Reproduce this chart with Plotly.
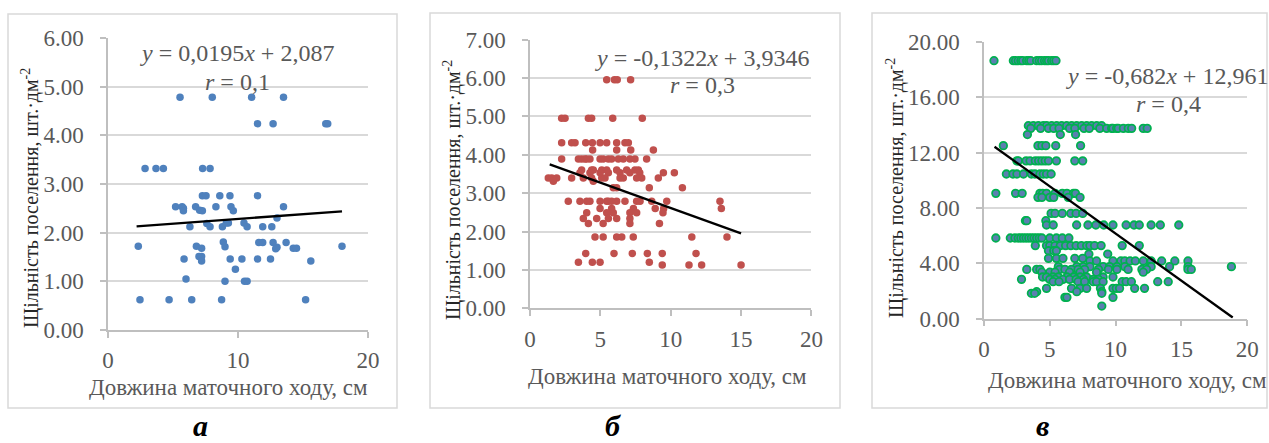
import plotly.graph_objects as go

W, H = 1269, 443

# ---------------- data ----------------
# Panel а
xa = [5.54, 8.02, 11.05, 13.5,
      11.5, 12.7, 16.75, 16.9,
      2.85, 3.69, 4.26, 7.28, 7.85,
      7.26, 7.54, 8.6, 9.38, 11.5,
      5.2, 5.7, 5.8, 6.74, 8.3, 9.46, 13.5,
      5.8, 7.05, 7.26, 9.64,
      13.0,
      7.6, 7.85, 6.3, 8.8, 9.26, 9.1, 10.46, 10.7, 11.9, 12.6,
      2.33, 6.8, 7.2, 8.87, 9.0, 11.6, 11.9, 12.7, 13.0, 12.9, 13.7, 14.25, 14.5, 18.0,
      7.0, 7.2,
      5.85, 9.4, 10.3, 11.5, 12.5,
      7.2, 15.6,
      9.8, 6.0, 9.0, 10.5, 10.7,
      2.46, 4.7, 6.44, 8.74, 15.2]
ya = [4.78, 4.78, 4.78, 4.78,
      4.24, 4.24, 4.24, 4.24,
      3.32, 3.32, 3.32, 3.32, 3.32,
      2.76, 2.76, 2.76, 2.76, 2.76,
      2.53, 2.53, 2.50, 2.53, 2.53, 2.53, 2.53,
      2.45, 2.46, 2.45, 2.45,
      2.30,
      2.19, 2.12, 2.12, 2.12, 2.20, 2.20, 2.20, 2.12, 2.12, 2.12,
      1.72, 1.72, 1.68, 1.81, 1.71, 1.80, 1.80, 1.80, 1.70, 1.67, 1.80, 1.68, 1.68, 1.72,
      1.51, 1.51,
      1.46, 1.46, 1.46, 1.46, 1.46,
      1.42, 1.42,
      1.25, 1.05, 1.00, 1.00, 1.00,
      0.62, 0.62, 0.62, 0.62, 0.62]

# Panel б  (rows: density value -> list of lengths)
b_rows = [
    (5.95, [5.45, 6.0, 6.2, 7.15]),
    (4.95, [2.25, 2.49, 4.15, 4.38, 5.88, 7.98]),
    (4.31, [2.25, 2.96, 3.2, 3.96, 4.43, 4.98, 5.45, 6.16, 6.75, 6.99]),
    (4.12, [4.45, 6.16, 7.16, 8.77]),
    (3.89, [2.25, 3.44, 3.67, 3.9, 4.03, 4.26, 4.98, 5.2, 5.57, 5.8, 6.28, 6.63, 7.1, 7.46, 8.29]),
    (3.60, [3.67, 4.38, 4.5, 5.1, 5.45, 6.16, 6.87, 7.46, 7.7]),
    (3.53, [3.55, 4.26, 4.98, 5.57, 6.4, 7.1, 7.8, 9.48, 10.26]),
    (3.39, [1.3, 1.54, 1.9, 2.96, 3.79, 4.38, 5.1, 5.33, 6.4, 6.63, 7.58, 7.94, 9.12]),
    (3.31, [1.66, 4.5]),
    (3.14, [5.92, 6.16, 8.48, 10.83]),
    (2.79, [2.72, 3.55, 4.03, 4.26, 4.98, 5.45, 5.57, 5.8, 6.16, 6.75, 7.58, 7.82, 8.65, 9.72, 13.5]),
    (2.60, [4.98, 5.8, 7.35, 8.9, 9.5, 13.6]),
    (2.49, [4.03, 5.45, 5.92, 7.1, 7.58, 9.45]),
    (2.34, [3.79, 4.74, 5.57, 6.16, 7.1]),
    (2.21, [4.15, 5.2, 7.1, 9.2]),
    (1.86, [4.62, 5.2, 6.16, 6.52, 7.34, 11.5, 14.0]),
    (1.43, [3.96, 5.97, 7.27, 8.34, 9.4, 11.8]),
    (1.20, [3.44, 4.43, 4.98, 8.48]),
    (1.13, [9.4, 11.3, 12.2, 15.0]),
]
xb = [x for yv, xs in b_rows for x in xs]
yb = [yv for yv, xs in b_rows for x in xs]

# Panel в
c_rows = [
    (18.64, [0.76, 2.23, 2.4, 2.6, 2.8, 2.94, 3.24, 3.4, 3.55, 4.0, 4.2, 4.38, 4.6, 4.76, 4.9, 5.14, 5.3, 5.47]),
    (13.94, [3.37, 3.75, 4.13, 4.51, 4.76, 5.14, 5.52, 5.9, 6.28, 6.66, 7.04, 7.42, 7.8, 8.18, 8.56, 8.94]),
    (13.75, [3.55, 4.3, 4.9, 5.3, 5.7, 6.5, 6.9, 7.6, 8.0, 8.8, 9.32, 9.7, 9.8, 10.08, 10.2, 10.59, 10.96, 11.22, 12.1, 12.4]),
    (13.30, [3.3, 5.8, 6.96]),
    (12.50, [1.47, 4.1, 4.4, 4.7, 5.45, 7.34]),
    (11.40, [2.5, 2.6, 3.2, 3.5, 3.9, 4.15, 4.4, 4.65, 4.9, 5.5, 6.9, 7.5]),
    (10.45, [1.7, 2.2, 2.5, 3.0, 3.6, 3.87, 4.25, 4.5, 4.75, 5.1]),
    (9.05, [0.9, 2.4, 2.9, 4.25, 4.45, 4.75, 5.4, 5.95, 6.3, 6.8, 6.95]),
    (8.76, [4.1, 4.4, 5.0, 5.3, 6.4, 7.3]),
    (7.60, [5.1, 5.4, 5.95, 6.6, 7.0, 7.5]),
    (7.07, [3.15, 3.25, 4.7]),
    (6.76, [4.75, 5.26, 7.04, 7.9, 8.5, 9.1, 9.8, 10.8, 11.4, 11.8, 12.7, 13.4, 14.8]),
    (5.82, [0.9, 2.0, 2.35, 2.6, 2.8, 3.0, 3.2, 3.4, 3.6, 3.8, 4.0, 4.2, 4.4, 5.0, 5.5, 5.95, 6.45]),
    (5.27, [3.9, 4.75, 5.0, 5.4, 5.8, 6.2, 6.6, 7.0, 7.4, 7.8, 8.05, 8.4, 8.9, 10.5, 11.8]),
    (4.90, [4.9, 5.3, 5.5]),
    (4.66, [7.97, 9.4]),
    (4.35, [4.9, 5.5, 6.0, 6.9, 7.5]),
    (4.16, [8.05, 8.55, 9.8, 10.4, 10.7, 11.1, 11.5, 12.1, 12.7, 13.5, 14.5, 15.5]),
    (3.75, [5.65, 7.05, 7.55, 8.05, 9.05, 9.55, 10.1, 10.7, 12.6, 12.7, 14.1, 15.5, 18.8]),
    (3.55, [3.25, 4.0, 4.25, 5.75, 6.15, 6.65, 7.15, 7.65, 8.7, 9.45, 10.1, 10.95, 12.0, 12.35, 15.5, 15.75]),
    (3.35, [4.4, 5.0, 5.4, 6.5, 7.3, 8.55, 12.1]),
    (3.00, [4.45, 4.75, 5.25, 5.65, 6.3, 6.8, 7.3, 7.8, 9.05, 9.8]),
    (2.83, [2.85, 5.0, 5.4, 6.0, 6.5, 7.0, 7.55, 8.3, 8.7]),
    (2.66, [5.25, 5.7, 7.15, 7.65, 8.3, 8.55, 9.05, 10.5, 10.8, 11.2, 13.2, 14.0]),
    (2.18, [4.75, 6.65, 7.3, 7.8, 8.85, 9.8, 10.05, 10.3, 11.45, 12.2]),
    (1.94, [4.0, 7.05, 8.95]),
    (1.82, [3.6, 3.85, 8.95]),
    (1.53, [6.15, 6.3, 9.8]),
    (0.90, [8.95]),
]
xc = [x for yv, xs in c_rows for x in xs]
yc = [yv for yv, xs in c_rows for x in xs]

# Trend lines (slope, intercept, x-start, x-end)
trend_a = (0.0195, 2.087, 2.2, 18.0)
trend_b = (-0.1322, 3.9346, 1.4, 15.0)
trend_c = (-0.682, 12.961, 0.8, 18.9)

eq_a = ["<i>y</i> = 0,0195<i>x</i> + 2,087", "<i>r</i> = 0,1"]
eq_b = ["<i>y</i> = -0,1322<i>x</i> + 3,9346", "<i>r</i> = 0,3"]
eq_c = ["<i>y</i> = -0,682<i>x</i> + 12,961", "<i>r</i> = 0,4"]

y_title = "Щільність поселення, шт.·дм<sup>-2</sup>"
x_title = "Довжина маточного ходу, см"
panel_labels = ["а", "б", "в"]

# ---------------- styling helpers ----------------
FONT = "Liberation Serif, Times New Roman, serif"
GRAY = "#595959"

def px(x):
    return x / W

def py(y):
    return 1 - y / H

fig = go.Figure()

def trend_xy(t):
    m, b, x0, x1 = t
    return [x0, x1], [m * x0 + b, m * x1 + b]

fig.add_trace(go.Scatter(x=xa, y=ya, mode="markers", xaxis="x", yaxis="y",
                         marker=dict(size=7.5, color="#4F81BD"), showlegend=False))
tx, ty = trend_xy(trend_a)
fig.add_trace(go.Scatter(x=tx, y=ty, mode="lines", xaxis="x", yaxis="y",
                         line=dict(color="black", width=2.3), showlegend=False))

fig.add_trace(go.Scatter(x=xb, y=yb, mode="markers", xaxis="x2", yaxis="y2",
                         marker=dict(size=7.5, color="#C0504D"), showlegend=False))
tx, ty = trend_xy(trend_b)
fig.add_trace(go.Scatter(x=tx, y=ty, mode="lines", xaxis="x2", yaxis="y2",
                         line=dict(color="black", width=2.3), showlegend=False))

fig.add_trace(go.Scatter(x=xc, y=yc, mode="markers", xaxis="x3", yaxis="y3",
                         marker=dict(size=7.5, color="#5B7FB0",
                                     line=dict(color="#00B050", width=1.8)),
                         showlegend=False))
tx, ty = trend_xy(trend_c)
fig.add_trace(go.Scatter(x=tx, y=ty, mode="lines", xaxis="x3", yaxis="y3",
                         line=dict(color="black", width=2.3), showlegend=False))

tickfont = dict(family=FONT, size=23, color=GRAY)

def xax(domain, anchor, dtick):
    return dict(domain=domain, anchor=anchor, range=[0, 20], dtick=dtick,
                showgrid=False, zeroline=False, showline=True,
                linecolor="#bfbfbf", linewidth=1.5, ticks="outside",
                ticklen=6, tickcolor="#bfbfbf", tickwidth=1.5,
                tickfont=tickfont, ticklabelstandoff=3, fixedrange=True,
                automargin=False)

def yax(domain, anchor, rng, dtick):
    return dict(domain=domain, anchor=anchor, range=rng, dtick=dtick,
                tickformat=".2f", showgrid=True, gridcolor="#d9d9d9",
                gridwidth=1.5, zeroline=False, showline=True,
                linecolor="#bfbfbf", linewidth=1.5, ticks="outside",
                ticklen=6, tickcolor="#bfbfbf", tickwidth=1.5,
                tickfont=tickfont, ticklabelstandoff=12, fixedrange=True,
                automargin=False)

A = dict(x0=108, x1=368, y0=330, y1=38)
B = dict(x0=530, x1=811.4, y0=308.3, y1=39.5)
C = dict(x0=984, x1=1247.2, y0=318.5, y1=41.9)

fig.update_layout(
    width=W, height=H, margin=dict(l=0, r=0, t=0, b=0, autoexpand=False),
    paper_bgcolor="white", plot_bgcolor="white",
    xaxis=xax([px(A["x0"]), px(A["x1"])], "y", 10),
    yaxis=yax([py(A["y0"]), py(A["y1"])], "x", [0, 6], 1),
    xaxis2=xax([px(B["x0"]), px(B["x1"])], "y2", 5),
    yaxis2=yax([py(B["y0"]), py(B["y1"])], "x2", [0, 7], 1),
    xaxis3=xax([px(C["x0"]), px(C["x1"])], "y3", 5),
    yaxis3=yax([py(C["y0"]), py(C["y1"])], "x3", [0, 20], 4),
)

for (x0, x1, y0, y1) in [(8, 397, 14, 408), (430, 840, 13, 408), (872, 1267, 13, 408)]:
    fig.add_shape(type="rect", xref="paper", yref="paper",
                  x0=px(x0), x1=px(x1), y0=py(y1), y1=py(y0),
                  line=dict(color="#d9d9d9", width=1.5), fillcolor="rgba(0,0,0,0)",
                  layer="below")

def ann(text, x, y, size, color=GRAY, angle=0, yanchor="middle", **kw):
    fig.add_annotation(text=text, xref="paper", yref="paper", x=px(x), y=py(y),
                       showarrow=False, textangle=angle,
                       font=dict(family=FONT, size=size, color=color),
                       xanchor="center", yanchor=yanchor, **kw)

ann(eq_a[0], 237, 53, 24)
ann(eq_a[1], 237, 82, 24)
ann(eq_b[0], 702, 58, 24)
ann(eq_b[1], 702, 85, 24)
ann(eq_c[0], 1167, 76, 24)
ann(eq_c[1], 1168, 104, 24)

ann(x_title, 228, 387, 23)
ann(x_title, 667, 376, 23)
ann(x_title, 1127, 380, 23)
ann(y_title, 30, 198, 20, color="#262626", angle=-90)
ann(y_title, 452, 190, 20, color="#262626", angle=-90)
ann(y_title, 895, 188, 20, color="#262626", angle=-90)

for lab, x in zip(panel_labels, [200, 613, 1042]):
    ann("<b><i>" + lab + "</i></b>", x, 443, 30, color="black", yanchor="bottom",
        borderpad=0)

fig.write_html(
    "out.html",
    config={"displayModeBar": False},
    post_script="document.body.style.margin='0';document.body.style.overflow='hidden';",
)
